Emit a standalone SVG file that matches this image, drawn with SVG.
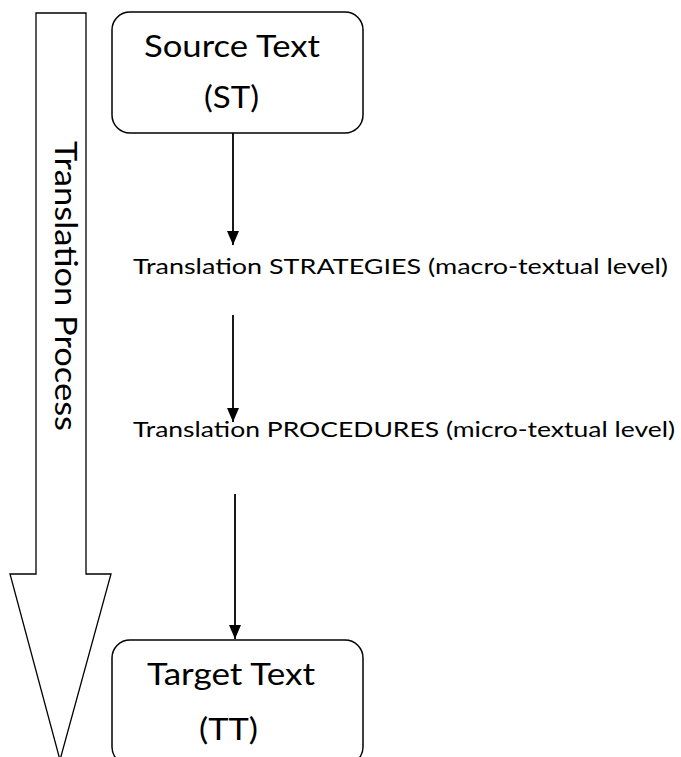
<svg xmlns="http://www.w3.org/2000/svg" width="681" height="757" viewBox="0 0 681 757">
<style>
.box{fill:#fff;stroke:#000;stroke-width:1.5}
.big{fill:#fff;stroke:#000;stroke-width:1.3}
.t{font-family:Lato,"Open Sans","Liberation Sans",sans-serif;fill:#000}
.lg{font-size:31px}
.md{font-size:22px}
.conn{stroke:#000;stroke-width:1.8;fill:none}
</style>
<defs>
<marker id="arr" markerUnits="userSpaceOnUse" markerWidth="14" markerHeight="12" viewBox="0 0 14 12" refX="14" refY="6" orient="auto">
<path d="M0,0 L14,6 L0,12 Z" fill="#000"/>
</marker>
</defs>
<g id="process-arrow">
<polygon class="big" points="36,13 86,13 86,574 111,574 60,760 10,574 36,574"/>
<text class="t lg" transform="translate(55,141) rotate(90)" textLength="290" lengthAdjust="spacingAndGlyphs">Translation Process</text>
</g>
<g id="source">
<rect class="box" x="112" y="12" width="251" height="121" rx="18"/>
<text class="t lg" x="144" y="57" textLength="176" lengthAdjust="spacingAndGlyphs">Source Text</text>
<text class="t lg" x="204" y="108" textLength="55" lengthAdjust="spacingAndGlyphs">(ST)</text>
</g>
<g id="strategies">
<text class="t md" x="133" y="274" textLength="535" lengthAdjust="spacingAndGlyphs">Translation STRATEGIES (macro-textual level)</text>
</g>
<g id="procedures">
<text class="t md" x="133" y="437" textLength="542" lengthAdjust="spacingAndGlyphs">Translation PROCEDURES (micro-textual level)</text>
</g>
<g id="target">
<rect class="box" x="112" y="640" width="251" height="125" rx="18"/>
<text class="t lg" x="147" y="685" textLength="168" lengthAdjust="spacingAndGlyphs">Target Text</text>
<text class="t lg" x="199" y="740" textLength="59" lengthAdjust="spacingAndGlyphs">(TT)</text>
</g>
<g id="connectors">
<line class="conn" x1="233" y1="133" x2="233" y2="245" marker-end="url(#arr)"/>
<line class="conn" x1="233" y1="315" x2="233" y2="422" marker-end="url(#arr)"/>
<line class="conn" x1="235" y1="494" x2="235" y2="639" marker-end="url(#arr)"/>
</g>
</svg>
